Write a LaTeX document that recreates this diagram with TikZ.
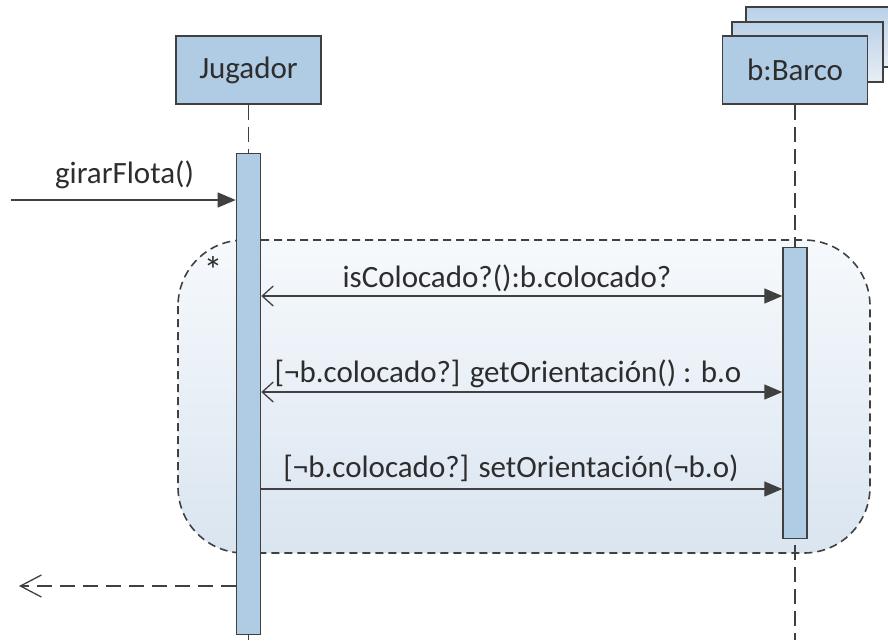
\documentclass[tikz,border=0pt]{standalone}
\usepackage{fontspec}
\setmainfont{Carlito}
\usetikzlibrary{positioning,arrows.meta}

\definecolor{boxblue}{RGB}{176,203,228}
\definecolor{backtop}{RGB}{186,209,232}
\definecolor{backbot}{RGB}{232,238,245}
\definecolor{linegray}{RGB}{64,64,64}
\definecolor{txtgray}{RGB}{45,45,45}
\definecolor{looptop}{RGB}{246,249,252}
\definecolor{loopbot}{RGB}{218,229,240}

\begin{document}
\begin{tikzpicture}[x=1pt,y=-1pt,
    every node/.style={font=\fontsize{31}{37}\selectfont, text=txtgray},
    obj/.style={draw=linegray, line width=1.6pt, fill=boxblue, minimum width=145pt, minimum height=68pt, inner sep=0pt},
    backobj/.style={draw=linegray, line width=1.6pt, top color=backtop, bottom color=backbot},
    act/.style={draw=linegray, line width=1.6pt, fill=boxblue, minimum width=24pt, inner sep=0pt},
    life/.style={draw=linegray, line width=1.4pt, dash pattern=on 15pt off 7pt},
    loopline/.style={draw=linegray, line width=1.6pt, dash pattern=on 8pt off 5pt, rounded corners=66pt},
    msg/.style={draw=linegray, line width=1.3pt, -{Triangle[length=18pt,width=15pt]}},
    callret/.style={draw=linegray, line width=1.3pt, {Straight Barb[length=11pt,width=20pt,line width=1.3pt]}-{Triangle[length=18pt,width=15pt]}},
    ret/.style={draw=linegray, line width=1.3pt, dash pattern=on 15pt off 8pt, -{Straight Barb[length=21pt,width=22pt,line width=1.3pt]}}]
    \useasboundingbox (0,0) rectangle (888,640);

    % loop fragment
    \shade[top color=looptop, bottom color=loopbot, rounded corners=66pt] (178,240) rectangle (870,553);
    \draw[loopline] (178,240) rectangle (870,553);
    \node[font=\fontsize{38}{44}\selectfont, inner sep=0pt] (rep) at (213,270) {*};

    % lifelines
    \draw[backobj] (746,7) rectangle (900,67);
    \draw[backobj] (732,22) rectangle (883,82);
    \node[obj] (jug) at (248.5,70) {Jugador};
    \node[obj, right=400pt of jug] (barco) {b:Barco};
    \draw[life] (jug.south) -- (jug.south |- 0,640);
    \draw[life] (barco.south) -- (barco.south |- 0,640);
    \node[act, minimum height=481pt, below=48pt of jug] (actJ) {};
    \node[act, minimum height=291pt, below=142pt of barco] (actB) {};

    % messages
    \coordinate (start) at (11,200);
    \coordinate (y1) at (0,296);
    \coordinate (y2) at (0,392);
    \coordinate (y3) at (0,489);
    \coordinate (out) at (19,586);
    \draw[msg] (start) -- (start -| actJ.west);
    \node[anchor=base] (lblgirar) at (124.5,183) {girarFlota()};
    \draw[callret] (actJ.east |- y1) -- (actB.west |- y1);
    \node[anchor=base] (lblcol) at (507,287) {isColocado?():b.colocado?};
    \draw[callret] (actJ.east |- y2) -- (actB.west |- y2);
    \node[anchor=base] (lblget) at (508,382) {[¬b.colocado?] getOrientación() : b.o};
    \draw[msg] (actJ.east |- y3) -- (actB.west |- y3);
    \node[anchor=base] (lblset) at (511,477) {[¬b.colocado?] setOrientación(¬b.o)};
    \draw[ret] (actJ.west |- out) -- (out);
\end{tikzpicture}
\end{document}
